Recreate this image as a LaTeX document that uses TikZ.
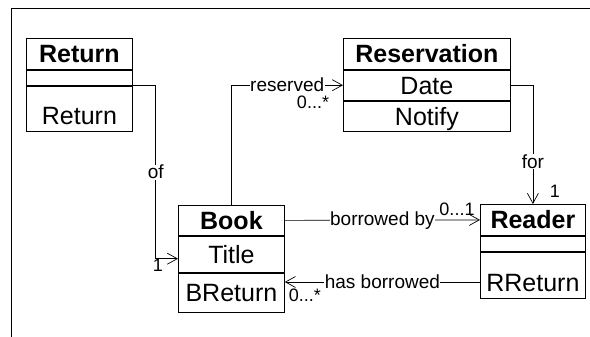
\documentclass[tikz,border=0pt]{standalone}
\usepackage{fontspec}
\setmainfont{Liberation Sans}
\usetikzlibrary{positioning,arrows.meta}
\tikzset{
  clspart/.style={draw, line width=0.8pt, inner sep=0pt, text height=18pt, text depth=0pt, font=\fontsize{25}{25}\selectfont},
  clshead/.style={clspart, font=\fontsize{25}{25}\selectfont\bfseries, minimum height=31pt},
  clsempty/.style={clspart, text height=0pt, minimum height=15pt},
  clslow/.style={text height=32pt},
  assoc/.style={line width=0.7pt},
  navi/.style={-{Straight Barb[length=10pt,width=11pt]}},
  lbl/.style={fill=white, inner sep=0.5pt, font=\fontsize{19}{19}\selectfont},
  mult/.style={inner sep=0pt, font=\fontsize{18}{18}\selectfont}
}
\begin{document}
\begin{tikzpicture}[x=1pt,y=-1pt]
\useasboundingbox (0,0) rectangle (590,337);
\draw[line width=0.8pt] (11,337) -- (11,8) -- (590,8);
\node[clshead, minimum width=106pt, anchor=north west] (retName) at (26,38) {Return};
\node[clsempty, minimum width=106pt, below=0pt of retName] (retEmpty) {};
\node[clspart, clslow, minimum width=106pt, minimum height=45pt, below=0pt of retEmpty] (retOp) {Return};
\node[clshead, minimum width=167pt, anchor=north west] (resName) at (343,38) {Reservation};
\node[clspart, minimum width=167pt, minimum height=30pt, below=0pt of resName] (resDate) {Date};
\node[clspart, minimum width=167pt, minimum height=30pt, below=0pt of resDate] (resOp) {Notify};
\node[clshead, minimum width=106pt, minimum height=30pt, anchor=north west] (bookName) at (178,205) {Book};
\node[clspart, minimum width=106pt, minimum height=36pt, below=0pt of bookName] (bookAttr) {Title};
\node[clspart, minimum width=106pt, minimum height=39pt, below=0pt of bookAttr] (bookOp) {BReturn};
\node[clshead, minimum width=105pt, anchor=north west] (readerName) at (480,204) {Reader};
\node[clsempty, minimum width=105pt, below=0pt of readerName] (readerEmpty) {};
\node[clspart, clslow, minimum width=105pt, minimum height=46pt, below=0pt of readerEmpty] (readerOp) {RReturn};
\coordinate (ofIn) at ([yshift=-4.5pt]bookAttr.west);
\coordinate (hbOut) at ([yshift=-7pt]readerOp.west);
\draw[assoc, navi] (retEmpty.south east) -- ++(23,0) |- node[pos=0.25, lbl] {of} (ofIn);
\draw[assoc, navi] (bookName.north) |- node[pos=0.75, lbl] {reserved} (resDate.west);
\draw[assoc, navi] (resDate.east) -| node[pos=0.82, lbl] {for} (readerName.north);
\draw[assoc, navi] (bookName.east) -- node[lbl] {borrowed by} (readerName.west);
\draw[assoc, navi] (hbOut) -- node[lbl] {has borrowed} (hbOut -| bookOp.east);
\node[mult] (ofMult) at ([xshift=-20pt, yshift=-7pt]ofIn) {1};
\node[mult] (resMult) at ([xshift=-30pt, yshift=-17pt]resDate.west) {0...*};
\node[mult] (forMult) at ([xshift=22pt, yshift=13pt]readerName.north) {1};
\node[mult] (brMult) at ([xshift=-23pt, yshift=11pt]readerName.west) {0...1};
\node[mult] (hbMult) at ([xshift=20pt, yshift=-13pt]bookOp.east |- hbOut) {0...*};
\end{tikzpicture}
\end{document}
